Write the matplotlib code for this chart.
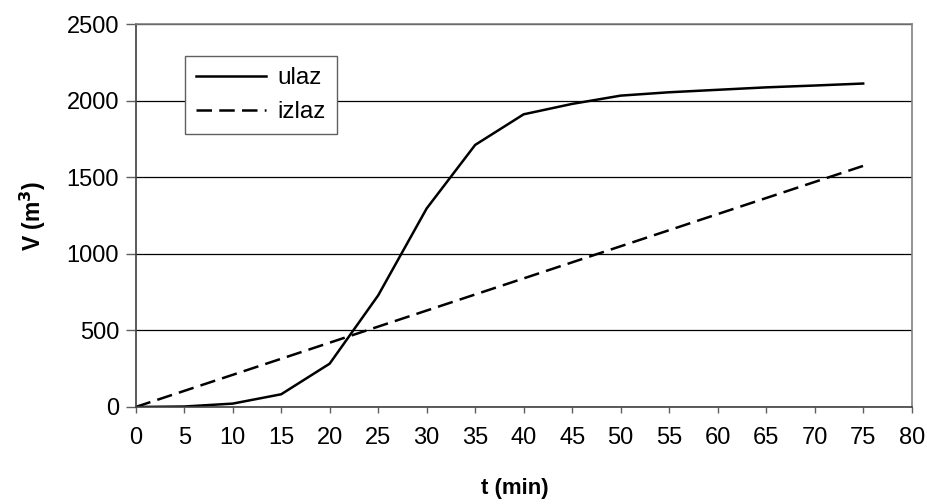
import matplotlib.pyplot as plt
import numpy as np

plt.rcParams['font.family'] = ['Liberation Sans', 'DejaVu Sans']

# data
t = [0, 5, 10, 15, 20, 25, 30, 35, 40, 45, 50, 55, 60, 65, 70, 75]
ulaz = [0, 3, 22, 83, 283, 729, 1297, 1712, 1912, 1980, 2034, 2056, 2072, 2088, 2100, 2113]
izlaz = [0, 105, 210, 315, 420, 525, 630, 735, 840, 945, 1050, 1155, 1260, 1365, 1470, 1575]

fig = plt.figure(figsize=(9.28, 5.04), dpi=100)
ax = fig.add_axes([0.1462, 0.1925, 0.8362, 0.7593])

ax.plot(t, ulaz, color='black', lw=1.8, label='ulaz')
ax.plot(t, izlaz, color='black', lw=1.8, dashes=(6.2, 2.9), label='izlaz')

ax.set_xlim(0, 80)
ax.set_ylim(0, 2500)
ax.set_xticks(np.arange(0, 81, 5))
ax.set_yticks(np.arange(0, 2501, 500))
ax.yaxis.grid(True, color='black', lw=0.9)
ax.set_axisbelow(True)

for s in ['top', 'right']:
    ax.spines[s].set_color('#808080')
    ax.spines[s].set_linewidth(1.2)
for s in ['left', 'bottom']:
    ax.spines[s].set_color('#404040')
    ax.spines[s].set_linewidth(1.2)
ax.tick_params(axis='both', direction='out', width=1, color='#606060', labelsize=17)
ax.tick_params(axis='y', length=7, pad=5)
ax.tick_params(axis='x', length=4.5, pad=10)

ax.set_xlabel('t (min)', fontsize=16, fontweight='bold', va='center')
ax.xaxis.set_label_coords(0.489, -0.214)
ax.set_ylabel('V (m$^\\mathbf{3}$)', fontsize=16.5, fontweight='bold', va='center')
ax.yaxis.set_label_coords(-0.132, 0.5)

leg = ax.legend(loc='upper left', bbox_to_anchor=(0.0635, 0.917), fontsize=17.5,
                frameon=True, fancybox=False, framealpha=1, edgecolor='#606060',
                handlelength=2.9, borderpad=0.45, labelspacing=0.5, handletextpad=0.45,
                borderaxespad=0)
leg.get_frame().set_linewidth(1.0)

fig.savefig('out.png', dpi=100)
